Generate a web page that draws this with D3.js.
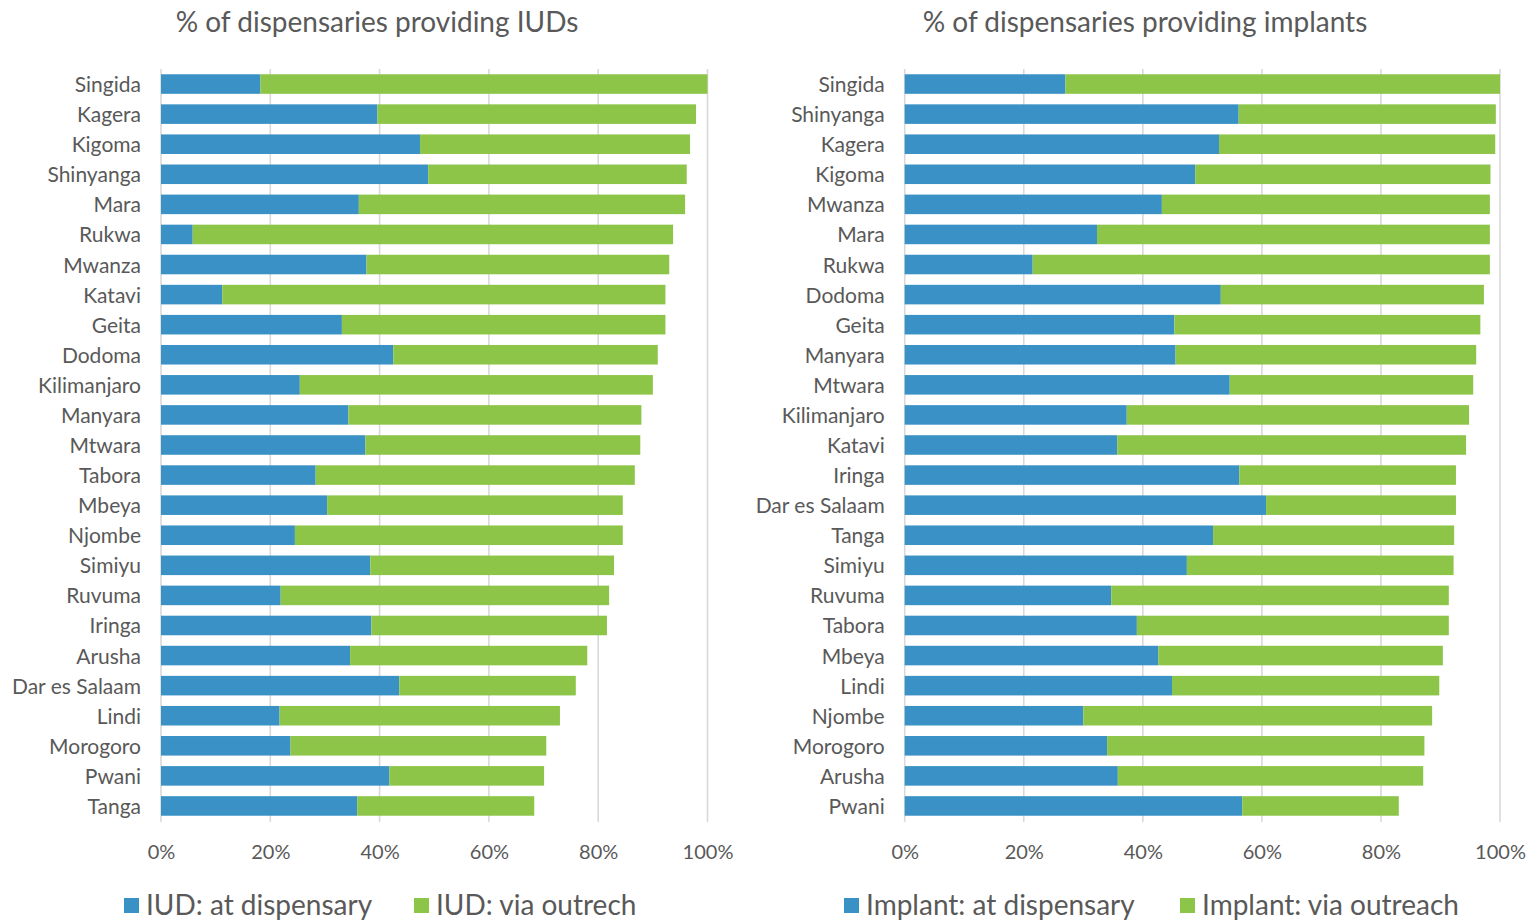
<!DOCTYPE html>
<html>
<head>
<meta charset="utf-8">
<script src="https://cdn.jsdelivr.net/npm/d3@7"></script>
<style>
  html, body { margin: 0; padding: 0; background: #fff; }
  svg text { font-family: Lato, "Open Sans", sans-serif; fill: #595959; }
</style>
</head>
<body>
<svg id="chart" width="1534" height="923"></svg>
<script>
// ---- Data ----
const iudRegions = ["Singida","Kagera","Kigoma","Shinyanga","Mara","Rukwa","Mwanza","Katavi","Geita","Dodoma","Kilimanjaro","Manyara","Mtwara","Tabora","Mbeya","Njombe","Simiyu","Ruvuma","Iringa","Arusha","Dar es Salaam","Lindi","Morogoro","Pwani","Tanga"];
const iudAtDispensary = [18.2,39.6,47.4,48.9,36.2,5.8,37.6,11.2,33.1,42.5,25.4,34.3,37.4,28.3,30.4,24.5,38.3,21.9,38.5,34.6,43.6,21.7,23.7,41.8,35.9];
const iudViaOutreach  = [81.8,58.3,49.4,47.3,59.7,87.9,55.4,81.1,59.2,48.4,64.6,53.6,50.3,58.4,54.1,60.0,44.6,60.1,43.1,43.4,32.3,51.3,46.8,28.3,32.4];

const implantRegions = ["Singida","Shinyanga","Kagera","Kigoma","Mwanza","Mara","Rukwa","Dodoma","Geita","Manyara","Mtwara","Kilimanjaro","Katavi","Iringa","Dar es Salaam","Tanga","Simiyu","Ruvuma","Tabora","Mbeya","Lindi","Njombe","Morogoro","Arusha","Pwani"];
const implantAtDispensary = [27.0,56.1,52.8,48.8,43.2,32.3,21.5,53.1,45.3,45.5,54.6,37.3,35.7,56.2,60.7,51.8,47.4,34.7,39.0,42.6,44.9,30.0,34.0,35.8,56.7];
const implantViaOutreach  = [73.0,43.2,46.4,49.6,55.1,66.0,76.8,44.2,51.4,50.5,40.9,57.5,58.6,36.4,31.9,40.5,44.8,56.7,52.4,47.8,44.9,58.6,53.3,51.3,26.3];

const tickValues = [0,20,40,60,80,100];
const titles = ["% of dispensaries providing IUDs", "% of dispensaries providing implants"];
const iudLegend = ["IUD: at dispensary", "IUD: via outrech"];
const implantLegend = ["Implant: at dispensary", "Implant: via outreach"];
const colors = ["#3a91c5", "#8dc548"];

// ---- Drawing ----
const svg = d3.select("#chart");

function panel(cfg) {
  const g = svg.append("g");
  const x = d3.scaleLinear().domain([0, 100]).range([cfg.x0, cfg.x1]);
  const y = d3.scaleBand().domain(cfg.regions).range([69, 821]).paddingInner(0.35).paddingOuter(0.175);

  // gridlines
  g.append("g").selectAll("line").data(tickValues).join("line")
    .attr("x1", d => x(d)).attr("x2", d => x(d))
    .attr("y1", 69).attr("y2", 822)
    .attr("stroke", "#d9d9d9").attr("stroke-width", 1.6);

  const rows = cfg.regions.map((r, i) => ({ r, a: cfg.a[i], b: cfg.b[i] }));
  const stack = d3.stack().keys(["a", "b"])(rows);

  g.append("g").selectAll("g").data(stack).join("g")
    .attr("fill", (d, i) => colors[i])
    .selectAll("rect").data(d => d).join("rect")
      .attr("x", d => x(d[0]))
      .attr("width", d => x(d[1]) - x(d[0]))
      .attr("y", d => y(d.data.r))
      .attr("height", y.bandwidth());

  // category labels
  const yAxis = g.append("g").attr("transform", `translate(${cfg.x0 - 20},0)`)
    .call(d3.axisLeft(y).tickSize(0).tickPadding(0));
  yAxis.select(".domain").remove();
  yAxis.selectAll("text").attr("font-size", 21).attr("font-family", "Lato, sans-serif").attr("fill", "#595959").attr("dy", "0.38em");

  // x tick labels
  const xAxis = g.append("g").attr("transform", `translate(0,${845})`)
    .call(d3.axisBottom(x).tickValues(tickValues).tickFormat(d => d + "%").tickSize(0).tickPadding(0));
  xAxis.select(".domain").remove();
  xAxis.selectAll("text").attr("font-size", 20).attr("font-family", "Lato, sans-serif").attr("fill", "#595959").attr("dy", "0.71em");

  // title
  g.append("text").attr("x", cfg.titleX).attr("y", 32).attr("text-anchor", "middle")
    .attr("font-size", 28).text(cfg.title);

  // legend
  cfg.legend.forEach((t, i) => {
    g.append("rect").attr("x", cfg.legX[i]).attr("y", 898).attr("width", 15).attr("height", 15).attr("fill", colors[i]);
    g.append("text").attr("x", cfg.legX[i] + 22).attr("y", 915).attr("font-size", 28).text(t);
  });
}

panel({ regions: iudRegions, a: iudAtDispensary, b: iudViaOutreach, x0: 161, x1: 707.5,
        title: titles[0], titleX: 377, legend: iudLegend, legX: [124, 414] });
panel({ regions: implantRegions, a: implantAtDispensary, b: implantViaOutreach, x0: 904.7, x1: 1500,
        title: titles[1], titleX: 1145, legend: implantLegend, legX: [844, 1180] });
</script>
</body>
</html>
